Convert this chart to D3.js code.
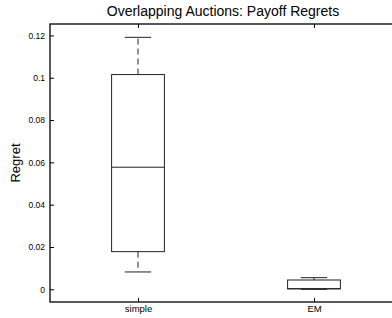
<!DOCTYPE html>
<html><head><meta charset="utf-8">
<script src="https://cdn.jsdelivr.net/npm/d3@7"></script>
<style>body{margin:0;background:#fff}svg{display:block}</style>
</head><body>
<script>
const categories = ["simple", "EM"];
const q1 = [0.0178, 0.0002];
const median = [0.0577, 0.0003];
const q3 = [0.1015, 0.0044];
const whiskerLow = [0.0082, 0.0];
const whiskerHigh = [0.1191, 0.0055];
const yTicks = [0, 0.02, 0.04, 0.06, 0.08, 0.1, 0.12];
const yTickLabels = ["0", "0.02", "0.04", "0.06", "0.08", "0.1", "0.12"];

const W = 392, H = 318;
const svg = d3.select("body").append("svg").attr("width", W).attr("height", H);
const mLeft = 50, mRight = 402, mTop = 24, mBottom = 302;
const x = d3.scaleLinear().domain([0.5, 2.5]).range([mLeft, mRight]);
const y = d3.scaleLinear().domain([-0.006, 0.1254]).range([mBottom, mTop]);
const font = "Liberation Sans, Arial, Helvetica, sans-serif";

const g = svg.append("g");
const yAxis = d3.axisLeft(y).tickValues(yTicks).tickFormat((d,i)=>yTickLabels[i]).tickSizeInner(-4).tickSizeOuter(0).tickPadding(5);
const ya = g.append("g").attr("transform", `translate(${mLeft},0)`).call(yAxis);
ya.select(".domain").remove();
ya.selectAll("text").attr("font-family", font).attr("font-size", 8.5).attr("fill", "#000");
ya.selectAll("line").attr("stroke", "#000");

const xAxis = d3.axisBottom(x).tickValues([1,2]).tickFormat((d)=>categories[d-1]).tickSizeInner(-4).tickSizeOuter(0).tickPadding(3);
const xa = g.append("g").attr("transform", `translate(0,${mBottom})`).call(xAxis);
xa.select(".domain").remove();
xa.selectAll("text").attr("font-family", font).attr("font-size", 9.5).attr("fill", "#000");
xa.selectAll("line").attr("stroke", "#000");

const xTop = d3.axisTop(x).tickValues([1,2]).tickFormat("").tickSizeInner(-4).tickSizeOuter(0);
const xt = g.append("g").attr("transform", `translate(0,${mTop})`).call(xTop);
xt.select(".domain").remove();
xt.selectAll("line").attr("stroke", "#000");

g.append("rect").attr("x", mLeft).attr("y", mTop).attr("width", mRight-mLeft).attr("height", mBottom-mTop)
  .attr("fill", "none").attr("stroke", "#000").attr("stroke-width", 1.3);

const boxW = 0.3, capW = 0.15;
const bx = g.append("g").attr("stroke", "#222").attr("fill", "none").attr("stroke-width", 1);
categories.forEach((c, i) => {
  const cx = x(i+1);
  const hw = x(1+boxW/2) - x(1);
  const cw = x(1+capW/2) - x(1);
  bx.append("line").attr("x1", cx).attr("x2", cx).attr("y1", y(q3[i])).attr("y2", y(whiskerHigh[i])).attr("stroke-dasharray", "6,4");
  bx.append("line").attr("x1", cx).attr("x2", cx).attr("y1", y(q1[i])).attr("y2", y(whiskerLow[i])).attr("stroke-dasharray", "6,4");
  bx.append("line").attr("x1", cx-cw).attr("x2", cx+cw).attr("y1", y(whiskerHigh[i])).attr("y2", y(whiskerHigh[i]));
  bx.append("line").attr("x1", cx-cw).attr("x2", cx+cw).attr("y1", y(whiskerLow[i])).attr("y2", y(whiskerLow[i]));
  bx.append("rect").attr("x", cx-hw).attr("width", 2*hw).attr("y", y(q3[i])).attr("height", y(q1[i]) - y(q3[i]));
  bx.append("line").attr("x1", cx-hw).attr("x2", cx+hw).attr("y1", y(median[i])).attr("y2", y(median[i]));
});

svg.append("text").attr("x", 223).attr("y", 16).attr("text-anchor", "middle")
  .attr("font-family", font).attr("font-size", 14).text("Overlapping Auctions: Payoff Regrets");
svg.append("text").attr("transform", "translate(20,163) rotate(-90)").attr("text-anchor", "middle")
  .attr("font-family", font).attr("font-size", 13).text("Regret");
</script>
</body></html>
